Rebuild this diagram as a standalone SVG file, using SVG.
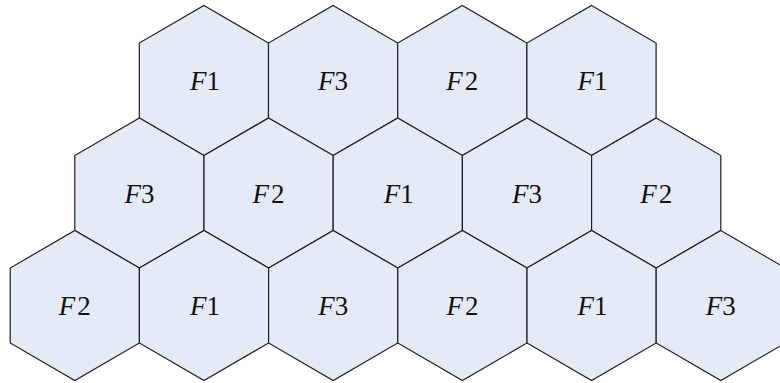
<svg xmlns="http://www.w3.org/2000/svg" xmlns:xlink="http://www.w3.org/1999/xlink" width="780" height="383" viewBox="0 0 780 383">
<style>
.hex{fill:#E5EBF6;stroke:#1f1f1f;stroke-width:1.2;stroke-linejoin:miter}
.lbl{font-family:"Liberation Serif","Times New Roman",serif;font-size:27px;fill:#111;text-anchor:middle}
.it{font-style:italic}
</style>
<defs>
<polygon id="hex" class="hex" points="0,-75 64.6,-37.5 64.6,37.5 0,75 -64.6,37.5 -64.6,-37.5"/>
</defs>
<rect width="780" height="383" fill="#fff"/>
<g id="connectors"></g>
<g id="r1c1" transform="translate(203.9,80.5)"><use href="#hex" xlink:href="#hex"/><text class="lbl" x="1" y="9.5"><tspan class="it">F</tspan>1</text></g>
<g id="r1c2" transform="translate(333.1,80.5)"><use href="#hex" xlink:href="#hex"/><text class="lbl" x="0" y="9.5"><tspan class="it">F</tspan>3</text></g>
<g id="r1c3" transform="translate(462.3,80.5)"><use href="#hex" xlink:href="#hex"/><text class="lbl" x="0" y="9.5"><tspan class="it">F</tspan><tspan dx="2">2</tspan></text></g>
<g id="r1c4" transform="translate(591.5,80.5)"><use href="#hex" xlink:href="#hex"/><text class="lbl" x="1" y="9.5"><tspan class="it">F</tspan>1</text></g>
<g id="r2c1" transform="translate(139.4,193)"><use href="#hex" xlink:href="#hex"/><text class="lbl" x="0" y="9.5"><tspan class="it">F</tspan>3</text></g>
<g id="r2c2" transform="translate(268.6,193)"><use href="#hex" xlink:href="#hex"/><text class="lbl" x="0" y="9.5"><tspan class="it">F</tspan><tspan dx="2">2</tspan></text></g>
<g id="r2c3" transform="translate(397.8,193)"><use href="#hex" xlink:href="#hex"/><text class="lbl" x="1" y="9.5"><tspan class="it">F</tspan>1</text></g>
<g id="r2c4" transform="translate(527,193)"><use href="#hex" xlink:href="#hex"/><text class="lbl" x="0" y="9.5"><tspan class="it">F</tspan>3</text></g>
<g id="r2c5" transform="translate(656.2,193)"><use href="#hex" xlink:href="#hex"/><text class="lbl" x="0" y="9.5"><tspan class="it">F</tspan><tspan dx="2">2</tspan></text></g>
<g id="r3c1" transform="translate(74.8,305.5)"><use href="#hex" xlink:href="#hex"/><text class="lbl" x="0" y="9.5"><tspan class="it">F</tspan><tspan dx="2">2</tspan></text></g>
<g id="r3c2" transform="translate(204,305.5)"><use href="#hex" xlink:href="#hex"/><text class="lbl" x="1" y="9.5"><tspan class="it">F</tspan>1</text></g>
<g id="r3c3" transform="translate(333.2,305.5)"><use href="#hex" xlink:href="#hex"/><text class="lbl" x="0" y="9.5"><tspan class="it">F</tspan>3</text></g>
<g id="r3c4" transform="translate(462.4,305.5)"><use href="#hex" xlink:href="#hex"/><text class="lbl" x="0" y="9.5"><tspan class="it">F</tspan><tspan dx="2">2</tspan></text></g>
<g id="r3c5" transform="translate(591.6,305.5)"><use href="#hex" xlink:href="#hex"/><text class="lbl" x="1" y="9.5"><tspan class="it">F</tspan>1</text></g>
<g id="r3c6" transform="translate(720.8,305.5)"><use href="#hex" xlink:href="#hex"/><text class="lbl" x="0" y="9.5"><tspan class="it">F</tspan>3</text></g>
</svg>
